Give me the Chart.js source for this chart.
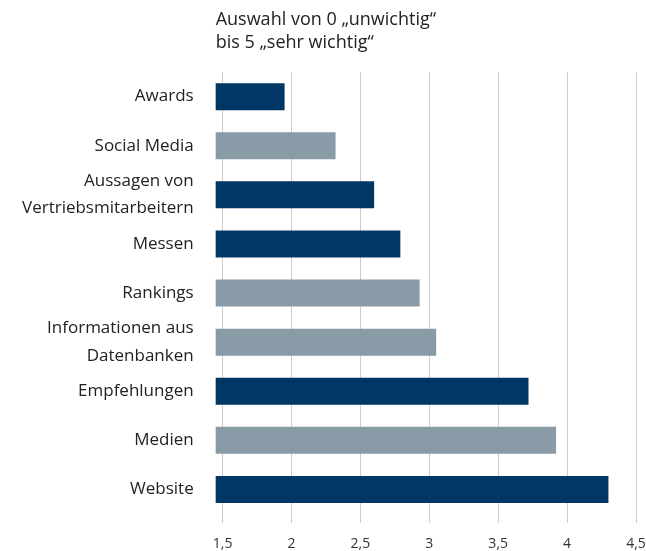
<!DOCTYPE html>
<html>
<head>
<meta charset="utf-8">
<script src="https://cdn.jsdelivr.net/npm/chart.js@4"></script>
<style>
    html, body { margin: 0; padding: 0; background: #fff; }
    #wrap { width: 646px; height: 551px; }
</style>
</head>
<body>
<div id="wrap"><canvas id="chart"></canvas></div>
<script>
// Kategorien (von oben nach unten)
var labels = [
    'Awards',
    'Social Media',
    ['Aussagen von', 'Vertriebsmitarbeitern'],
    'Messen',
    'Rankings',
    ['Informationen aus', 'Datenbanken'],
    'Empfehlungen',
    'Medien',
    'Website'
];
// Mittelwerte
var values = [1.95, 2.32, 2.6, 2.79, 2.93, 3.05, 3.72, 3.92, 4.3];
// Achse
var xTicks = [1.5, 2, 2.5, 3, 3.5, 4, 4.5];
var titleLines = ['Auswahl von 0 \u201Eunwichtig\u201C', 'bis 5 \u201Esehr wichtig\u201C'];

var NAVY = '#003764', GREY = '#8a9ba8';
var barColors = [NAVY, GREY, NAVY, NAVY, GREY, GREY, NAVY, GREY, NAVY];

Chart.defaults.font.family = '"Open Sans", sans-serif';
Chart.defaults.color = '#222';

var ctx = document.getElementById('chart').getContext('2d');
new Chart(ctx, {
    type: 'bar',
    data: {
        labels: labels,
        datasets: [{
            data: values,
            backgroundColor: barColors,
            borderWidth: 0,
            categoryPercentage: 1,
            barPercentage: 0.55
        }]
    },
    options: {
        indexAxis: 'y',
        responsive: true,
        maintainAspectRatio: false,
        animation: false,
        layout: { padding: { top: 8, right: 0, left: 0, bottom: 0 } },
        plugins: {
            legend: { display: false },
            tooltip: { enabled: false },
            title: {
                display: true,
                text: titleLines,
                align: 'start',
                fullSize: false,
                color: '#222',
                font: { size: 18, weight: 'normal', lineHeight: 1.28 },
                padding: { top: 0, bottom: 18 }
            }
        },
        scales: {
            x: {
                min: 1.45,
                max: 4.5,
                afterBuildTicks: function (scale) {
                    scale.ticks = xTicks.map(function (v) { return { value: v }; });
                },
                // nur Platz für die halbe Breite von "4,5", padding nicht doppelt rechnen
                afterFit: function (scale) {
                    scale.paddingLeft = 0;
                    scale.paddingRight = 10;
                    scale.height = scale.height - scale.options.ticks.padding;
                },
                border: { display: false },
                grid: {
                    color: '#cccccc',
                    lineWidth: 1,
                    drawTicks: true,
                    tickLength: 9
                },
                ticks: {
                    color: '#333',
                    font: { size: 14, lineHeight: 1 },
                    padding: 14,
                    maxRotation: 0,
                    callback: function (v) { return String(v).replace('.', ','); }
                }
            },
            y: {
                afterFit: function (scale) {
                    scale.paddingTop = 0;
                    scale.paddingBottom = 0;
                },
                border: { display: false },
                grid: { display: false, drawTicks: false },
                ticks: {
                    autoSkip: false,
                    color: '#222',
                    font: { size: 17, lineHeight: 1.6 },
                    padding: 22
                }
            }
        }
    }
});
</script>
</body>
</html>
